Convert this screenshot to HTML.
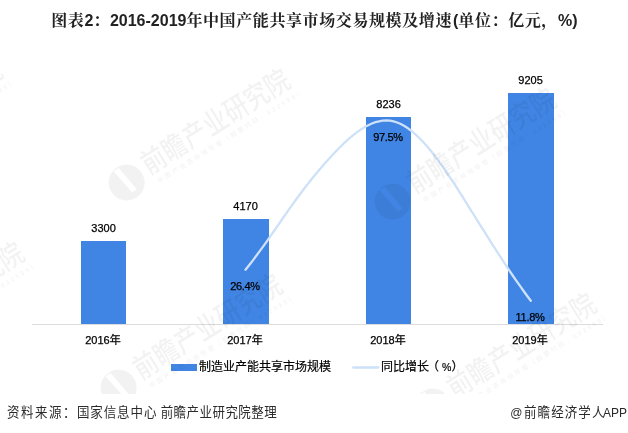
<!DOCTYPE html>
<html lang="zh">
<head>
<meta charset="utf-8">
<title>图表2：2016-2019年中国产能共享市场交易规模及增速</title>
<style>
html,body{margin:0;padding:0;background:#fff;}
body{width:628px;height:433px;position:relative;overflow:hidden;font-family:"Liberation Sans","Noto Sans CJK SC",sans-serif;color:#000;}
.abs{position:absolute;white-space:nowrap;}
.title{font-family:"Liberation Sans","Noto Serif CJK SC",serif;left:51.2px;top:10px;height:22px;line-height:22px;font-size:16px;font-weight:bold;color:#222;letter-spacing:0.6px;}
.title .l{letter-spacing:0;}
.bar{position:absolute;background:#4085e3;}
.val{position:absolute;font-size:11px;line-height:14px;width:60px;text-align:center;color:#000;white-space:nowrap;-webkit-text-stroke:0.25px #000;}
.pct{letter-spacing:-0.3px;margin-left:0px;}
.axis{position:absolute;left:32px;width:571px;top:324px;height:1px;background:#dcdcdc;}
.wmlayer{position:absolute;left:0;top:0;width:628px;height:394px;overflow:hidden;pointer-events:none;}
.wm{position:absolute;width:0;height:0;transform:rotate(-32deg);}
.wm .t{position:absolute;left:0;top:-15px;white-space:nowrap;font-size:24px;line-height:30px;font-weight:500;color:rgba(0,0,0,0.05);letter-spacing:0.2px;transform:scaleY(1.2);}
.wm .s{position:absolute;left:4px;top:16px;white-space:nowrap;font-size:6.5px;line-height:8px;font-weight:bold;color:rgba(0,0,0,0.045);letter-spacing:2.1px;}
.wm .c{position:absolute;left:-41px;top:-14px;width:36px;height:36px;}
.wm .c svg{position:absolute;left:0;top:0;}
svg{position:absolute;left:0;top:0;}
.leg{font-size:12px;line-height:14px;-webkit-text-stroke:0.2px #000;}
.foot{position:absolute;font-size:12.5px;line-height:16px;color:#2a2a2a;white-space:nowrap;transform:scaleY(1.06);transform-origin:left center;}
.foot .la{font-size:12px;}
.foot .sp{font-size:12px;}
</style>
</head>
<body>

<div class="abs title">图表<span class="l">2</span>：<span class="l">2016-2019</span>年中国产能共享市场交易规模及增速<span class="l" style="margin-left:1px">(</span>单位：亿元，<span class="l">%)</span></div>

<div class="bar" style="left:81px;top:241px;width:45px;height:83px;"></div>
<div class="bar" style="left:223px;top:219px;width:45.5px;height:105px;"></div>
<div class="bar" style="left:366px;top:117px;width:45px;height:207px;"></div>
<div class="bar" style="left:508px;top:93px;width:46px;height:231px;"></div>
<div class="axis"></div>

<svg width="628" height="433" viewBox="0 0 628 433">
  <path d="M245.5 269.7 L249.1 265.2 L252.7 260.6 L256.3 255.8 L259.9 250.9 L263.6 245.9 L267.2 240.8 L270.8 235.7 L274.4 230.5 L278.0 225.3 L281.6 220.0 L285.2 214.8 L288.8 209.7 L292.4 204.6 L296.1 199.5 L299.7 194.6 L303.3 189.8 L306.9 185.1 L310.5 180.5 L314.1 176.1 L317.7 171.7 L321.3 167.5 L325.0 163.3 L328.6 159.3 L332.2 155.3 L335.8 151.5 L339.4 147.8 L343.0 144.2 L346.6 140.8 L350.2 137.6 L353.8 134.6 L357.5 131.9 L361.1 129.4 L364.7 127.1 L368.3 125.2 L371.9 123.5 L375.5 122.2 L379.1 121.3 L382.7 120.7 L386.3 120.5 L390.0 120.7 L393.6 121.4 L397.2 122.5 L400.8 124.0 L404.4 126.0 L408.0 128.3 L411.6 131.0 L415.2 134.1 L418.8 137.5 L422.5 141.2 L426.1 145.2 L429.7 149.5 L433.3 154.0 L436.9 158.7 L440.5 163.6 L444.1 168.7 L447.7 174.0 L451.3 179.4 L455.0 184.9 L458.6 190.6 L462.2 196.2 L465.8 202.0 L469.4 207.8 L473.0 213.5 L476.6 219.3 L480.2 225.1 L483.9 230.9 L487.5 236.6 L491.1 242.3 L494.7 248.0 L498.3 253.6 L501.9 259.2 L505.5 264.7 L509.1 270.1 L512.7 275.5 L516.4 280.8 L520.0 285.9 L523.6 291.0 L527.2 296.0 L530.8 300.8" fill="none" stroke="#cde1f8" stroke-width="2.3" stroke-linejoin="round" stroke-linecap="round"/>
  <line x1="353.3" y1="367.5" x2="378.2" y2="367.5" stroke="#cde1f8" stroke-width="2.4" stroke-linecap="round"/>
</svg>

<div class="val" style="left:73.6px;top:220.7px;">3300</div>
<div class="val" style="left:215.6px;top:198.7px;">4170</div>
<div class="val" style="left:358.6px;top:96.7px;">8236</div>
<div class="val" style="left:500.6px;top:72.7px;">9205</div>

<div class="val pct" style="left:215px;top:279px;">26.4%</div>
<div class="val pct" style="left:358px;top:130px;">97.5%</div>
<div class="val pct" style="left:500px;top:310px;">11.8%</div>

<div class="val" style="left:73px;top:333px;">2016年</div>
<div class="val" style="left:215px;top:333px;">2017年</div>
<div class="val" style="left:358px;top:333px;">2018年</div>
<div class="val" style="left:500px;top:333px;">2019年</div>

<div class="bar" style="left:170.5px;top:363.8px;width:26px;height:7.4px;"></div>
<div class="abs leg" style="left:199px;top:360.4px;">制造业产能共享市场规模</div>
<div class="abs leg" style="left:381px;top:360.4px;">同比增长<span style="margin-left:-2px">（</span><span style="font-size:10.5px;margin-left:3px;">%</span>）</div>

<div class="wmlayer">
<div class="wm" style="left:143.8px;top:166.9px;"><div class="c"><svg width="36" height="36" viewBox="0 0 36 36"><path fill-rule="evenodd" fill="rgba(0,0,0,0.05)" d="M18 0A18 18 0 1 0 18 36A18 18 0 1 0 18 0ZM13 1.5L19 1.5L23 29L17.5 29Z"/></svg></div><div class="t">前瞻产业研究院</div><div class="s">中国产业咨询领导者（股票代码：832599）</div></div>
<div class="wm" style="left:410.3px;top:185.9px;"><div class="c"><svg width="36" height="36" viewBox="0 0 36 36"><path fill-rule="evenodd" fill="rgba(0,0,0,0.05)" d="M18 0A18 18 0 1 0 18 36A18 18 0 1 0 18 0ZM13 1.5L19 1.5L23 29L17.5 29Z"/></svg></div><div class="t">前瞻产业研究院</div><div class="s">中国产业咨询领导者（股票代码：832599）</div></div>
<div class="wm" style="left:136.3px;top:372.4px;"><div class="c"><svg width="36" height="36" viewBox="0 0 36 36"><path fill-rule="evenodd" fill="rgba(0,0,0,0.05)" d="M18 0A18 18 0 1 0 18 36A18 18 0 1 0 18 0ZM13 1.5L19 1.5L23 29L17.5 29Z"/></svg></div><div class="t">前瞻产业研究院</div><div class="s">中国产业咨询领导者（股票代码：832599）</div></div>
<div class="wm" style="left:450.3px;top:391.4px;"><div class="c"><svg width="36" height="36" viewBox="0 0 36 36"><path fill-rule="evenodd" fill="rgba(0,0,0,0.05)" d="M18 0A18 18 0 1 0 18 36A18 18 0 1 0 18 0ZM13 1.5L19 1.5L23 29L17.5 29Z"/></svg></div><div class="t">前瞻产业研究院</div><div class="s">中国产业咨询领导者（股票代码：832599）</div></div>
<div class="wm" style="left:-121.8px;top:340.2px;"><div class="c"><svg width="36" height="36" viewBox="0 0 36 36"><path fill-rule="evenodd" fill="rgba(0,0,0,0.05)" d="M18 0A18 18 0 1 0 18 36A18 18 0 1 0 18 0ZM13 1.5L19 1.5L23 29L17.5 29Z"/></svg></div><div class="t">前瞻产业研究院</div><div class="s">中国产业咨询领导者（股票代码：832599）</div></div>
<div class="wm" style="left:-143.8px;top:157.2px;"><div class="c"><svg width="36" height="36" viewBox="0 0 36 36"><path fill-rule="evenodd" fill="rgba(0,0,0,0.05)" d="M18 0A18 18 0 1 0 18 36A18 18 0 1 0 18 0ZM13 1.5L19 1.5L23 29L17.5 29Z"/></svg></div><div class="t">前瞻产业研究院</div><div class="s">中国产业咨询领导者（股票代码：832599）</div></div>
</div>

<div class="foot" style="left:6.9px;top:404.5px;"><span style="letter-spacing:1.5px">资料来源：</span><span style="letter-spacing:0.9px">国家信息中心</span><span class="sp"> </span><span style="letter-spacing:0.45px">前瞻产业研究院整理</span></div>
<div class="foot" style="left:510.2px;top:404.5px;"><span class="la">@</span><span style="letter-spacing:1.1px;margin-left:1.6px">前瞻经济学人</span><span class="la" style="margin-left:-2.6px">APP</span></div>
</body>
</html>
